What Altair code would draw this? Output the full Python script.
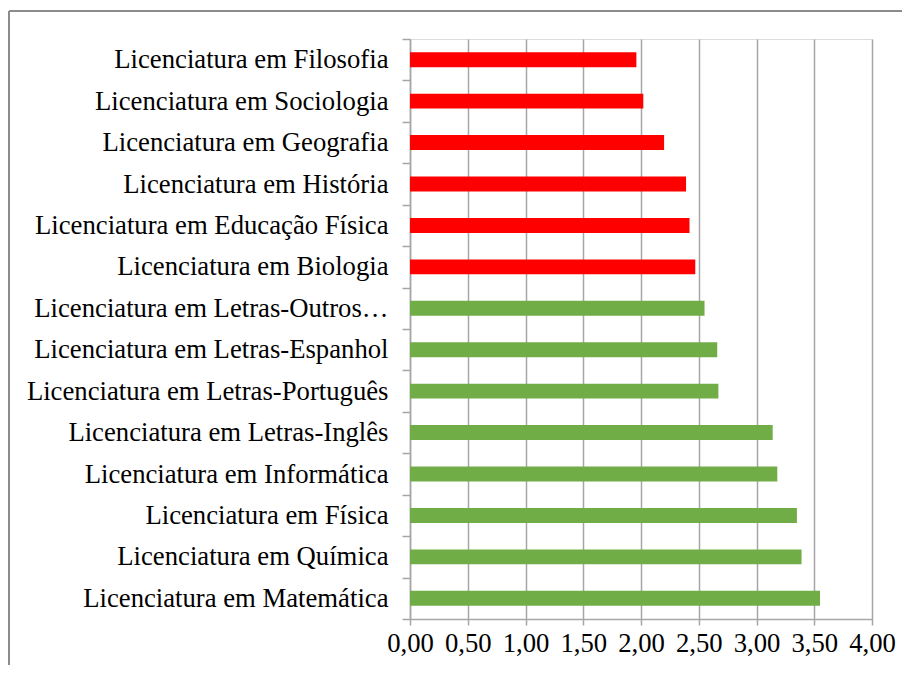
import altair as alt
import pandas as pd

cursos = [
    "Licenciatura em Filosofia",
    "Licenciatura em Sociologia",
    "Licenciatura em Geografia",
    "Licenciatura em História",
    "Licenciatura em Educação Física",
    "Licenciatura em Biologia",
    "Licenciatura em Letras-Outros…",
    "Licenciatura em Letras-Espanhol",
    "Licenciatura em Letras-Português",
    "Licenciatura em Letras-Inglês",
    "Licenciatura em Informática",
    "Licenciatura em Física",
    "Licenciatura em Química",
    "Licenciatura em Matemática",
]
valores = [1.96, 2.02, 2.20, 2.39, 2.42, 2.47, 2.55, 2.66, 2.67, 3.14, 3.18, 3.35, 3.39, 3.55]
grupos = ["baixo"] * 6 + ["alto"] * 8
x_ticks = [0, 0.5, 1.0, 1.5, 2.0, 2.5, 3.0, 3.5, 4.0]

df = pd.DataFrame({"curso": cursos, "valor": valores, "grupo": grupos})

FONT = "Liberation Serif"
GRID = "#a6a6a6"

bars = alt.Chart(df).mark_bar(
    height=alt.RelativeBandSize(band=0.36)
).encode(
    x=alt.X(
        "valor:Q",
        scale=alt.Scale(domain=[0, 4], nice=False),
        axis=alt.Axis(
            values=x_ticks,
            title=None,
            grid=True,
            gridColor=GRID,
            gridWidth=1.5,
            domainColor=GRID,
            domainWidth=1.5,
            tickColor=GRID,
            tickWidth=1.5,
            tickSize=6,
            labelFont=FONT,
            labelFontSize=26.7,
            labelColor="#000000",
            labelPadding=5,
            labelOverlap=False,
            labelFlush=False,
            labelExpr="replace(format(datum.value, '.2f'), '.', ',')",
        ),
    ),
    y=alt.Y(
        "curso:N",
        sort=cursos,
        scale=alt.Scale(paddingInner=0, paddingOuter=0),
        axis=alt.Axis(
            title=None,
            tickBand="extent",
            domainColor=GRID,
            domainWidth=1.5,
            tickColor=GRID,
            tickWidth=1.5,
            tickSize=8,
            labelFont=FONT,
            labelFontSize=26.7,
            labelColor="#000000",
            labelPadding=14,
            labelLimit=0,
            grid=False,
        ),
    ),
    color=alt.Color(
        "grupo:N",
        scale=alt.Scale(domain=["baixo", "alto"], range=["#ff0000", "#70ad47"]),
        legend=None,
    ),
)

frame_v = alt.Chart(df).mark_rule(color="#8c8c8c", strokeWidth=1.5).encode(
    x=alt.value(-401), y=alt.value(-28), y2=alt.value(700)
)
frame_h = alt.Chart(df).mark_rule(color="#8c8c8c", strokeWidth=1.5).encode(
    x=alt.value(-401), x2=alt.value(600), y=alt.value(-28)
)

chart = (
    alt.layer(bars, frame_v, frame_h)
    .properties(
        width=462,
        height=580,
        autosize=alt.AutoSizeParams(type="none"),
        padding={"left": 402, "top": 31, "right": 30, "bottom": 46},
    )
    .configure_view(stroke=None)
    .configure(background="white")
)

chart.save("out.html", embed_options={"renderer": "svg", "actions": False})
